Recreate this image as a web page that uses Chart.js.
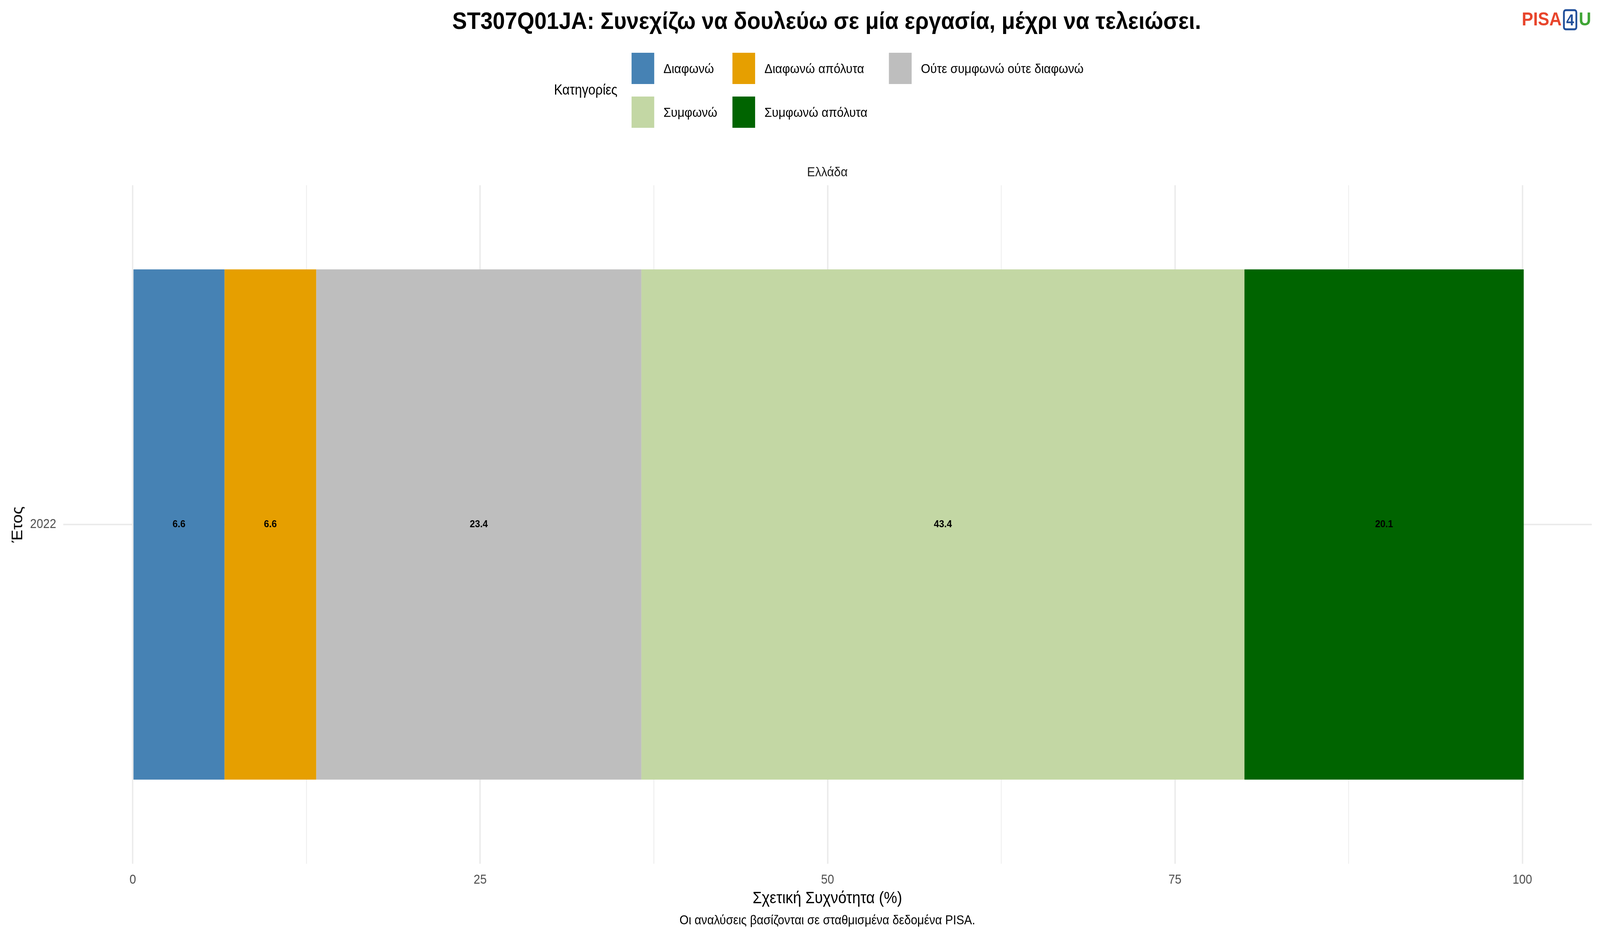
<!DOCTYPE html>
<html><head><meta charset="utf-8">
<script src="https://cdn.jsdelivr.net/npm/chart.js@4/dist/chart.umd.min.js"></script>
<style>
html,body{margin:0;padding:0;background:#fff;font-family:"Liberation Sans",Arial,sans-serif;overflow:hidden;}
#wrap{position:relative;width:4500px;height:2400px;transform-origin:0 0;}
canvas{position:absolute;left:0;top:0;}
.t{position:absolute;white-space:nowrap;color:#000;}
.box{position:absolute;width:64px;height:80px;}
</style></head><body>
<div id="wrap">
<canvas id="c" style="width:4500px;height:2400px"></canvas>
<div class="t" style="left:2325px;top:52px;transform:translate(-50%,-50%);font-size:62px;font-weight:bold;">ST307Q01JA: Συνεχίζω να δουλεύω σε μία εργασία, μέχρι να τελειώσει.</div>
<div class="t" style="left:4280px;top:48px;transform:translateY(-50%);font-size:48px;font-weight:bold;"><span style="color:#E8452C">PISA</span><span style="color:#1F4E9A;border:5px solid #1F4E9A;border-radius:8px;padding:0 4px;margin:0 4px;font-size:40px">4</span><span style="color:#3FA535">U</span></div>
<div class="t" style="left:1558px;top:230px;transform:translateY(-50%);font-size:36px;">Κατηγορίες</div>
<div id="legend"></div>
<div class="t" style="left:2327px;top:439px;transform:translate(-50%,-50%);font-size:34px;color:#1a1a1a">Ελλάδα</div>
<div class="t" style="left:48px;top:1342px;transform:translate(-50%,-50%) rotate(-90deg);font-size:42px;">Έτος</div>
<div class="t" style="left:2327px;top:2297px;transform:translate(-50%,-50%);font-size:42px;">Σχετική Συχνότητα (%)</div>
<div class="t" style="left:2327px;top:2354px;transform:translate(-50%,-50%);font-size:33px;">Οι αναλύσεις βασίζονται σε σταθμισμένα δεδομένα PISA.</div>
</div>
<script>
const years = ["2022"];
const categories = ["Διαφωνώ","Διαφωνώ απόλυτα","Ούτε συμφωνώ ούτε διαφωνώ","Συμφωνώ","Συμφωνώ απόλυτα"];
const valDiafono = [6.6];
const valDiafonoApolyta = [6.6];
const valOute = [23.4];
const valSymfono = [43.4];
const valSymfonoApolyta = [20.1];
const xTicks = [0,25,50,75,100];
const colors = ["#4682B4","#E69F00","#BEBEBE","#C3D7A4","#006400"];
const series = [valDiafono,valDiafonoApolyta,valOute,valSymfono,valSymfonoApolyta];

const sx = (window.innerWidth || 4500) / 4500;
const sy = (window.innerHeight || 2400) / 2400;
document.getElementById('wrap').style.transform = 'scale(' + sx + ',' + sy + ')';

const legPos = [[1776,135],[2060,135],[2500,135],[1776,247],[2060,247]];
const lg = document.getElementById('legend');
categories.forEach((c,i)=>{
  const [x,y]=legPos[i];
  lg.insertAdjacentHTML('beforeend',`<div class="box" style="left:${x}px;top:${y}px;background:${colors[i]}"></div><div class="t" style="left:${x+90}px;top:${y+40}px;transform:translateY(-50%);font-size:34px">${c}</div>`);
});

const labelPlugin = {id:'lbl',afterDatasetsDraw(ch){
  const ctx=ch.ctx; ctx.save();
  ctx.font='bold 26px "Liberation Sans", Arial'; ctx.fillStyle='#000';
  ctx.textAlign='center'; ctx.textBaseline='middle';
  ch.data.datasets.forEach((ds,i)=>{
    ch.getDatasetMeta(i).data.forEach((el,j)=>{
      const c=el.getCenterPoint(); ctx.fillText(ds.data[j].toFixed(1),c.x,c.y);
    });
  });
  ctx.restore();
}};

new Chart(document.getElementById('c'),{
  type:'bar',
  data:{labels:years,datasets:categories.map((c,i)=>({label:c,data:series[i],backgroundColor:colors[i],borderWidth:0,barPercentage:0.752,categoryPercentage:1}))},
  options:{
    indexAxis:'y',responsive:false,maintainAspectRatio:false,animation:false,
    layout:{padding:{left:0,right:23,top:474,bottom:0}},
    plugins:{legend:{display:false},tooltip:{enabled:false}},
    scales:{
      x:{stacked:true,min:-5,max:105,
        afterBuildTicks(s){s.ticks=[0,12.5,25,37.5,50,62.5,75,87.5,100].map(v=>({value:v}));},
        afterFit(s){s.height=190;},
        border:{display:false},
        grid:{drawTicks:false,color:'#EBEBEB',lineWidth:c=>(c.tick&&c.tick.value%25===0)?4:2},
        ticks:{padding:22,color:'#4d4d4d',font:{size:33,family:'"Liberation Sans", Arial'},
          callback:v=>xTicks.includes(v)?String(v):''}},
      y:{stacked:true,
        afterFit(s){s.width=178;},
        border:{display:false},
        grid:{offset:false,drawTicks:false,color:'#EBEBEB',lineWidth:4},
        ticks:{padding:20,color:'#4d4d4d',font:{size:33,family:'"Liberation Sans", Arial'}}}
    }
  },
  plugins:[labelPlugin]
});
</script>
</body></html>
